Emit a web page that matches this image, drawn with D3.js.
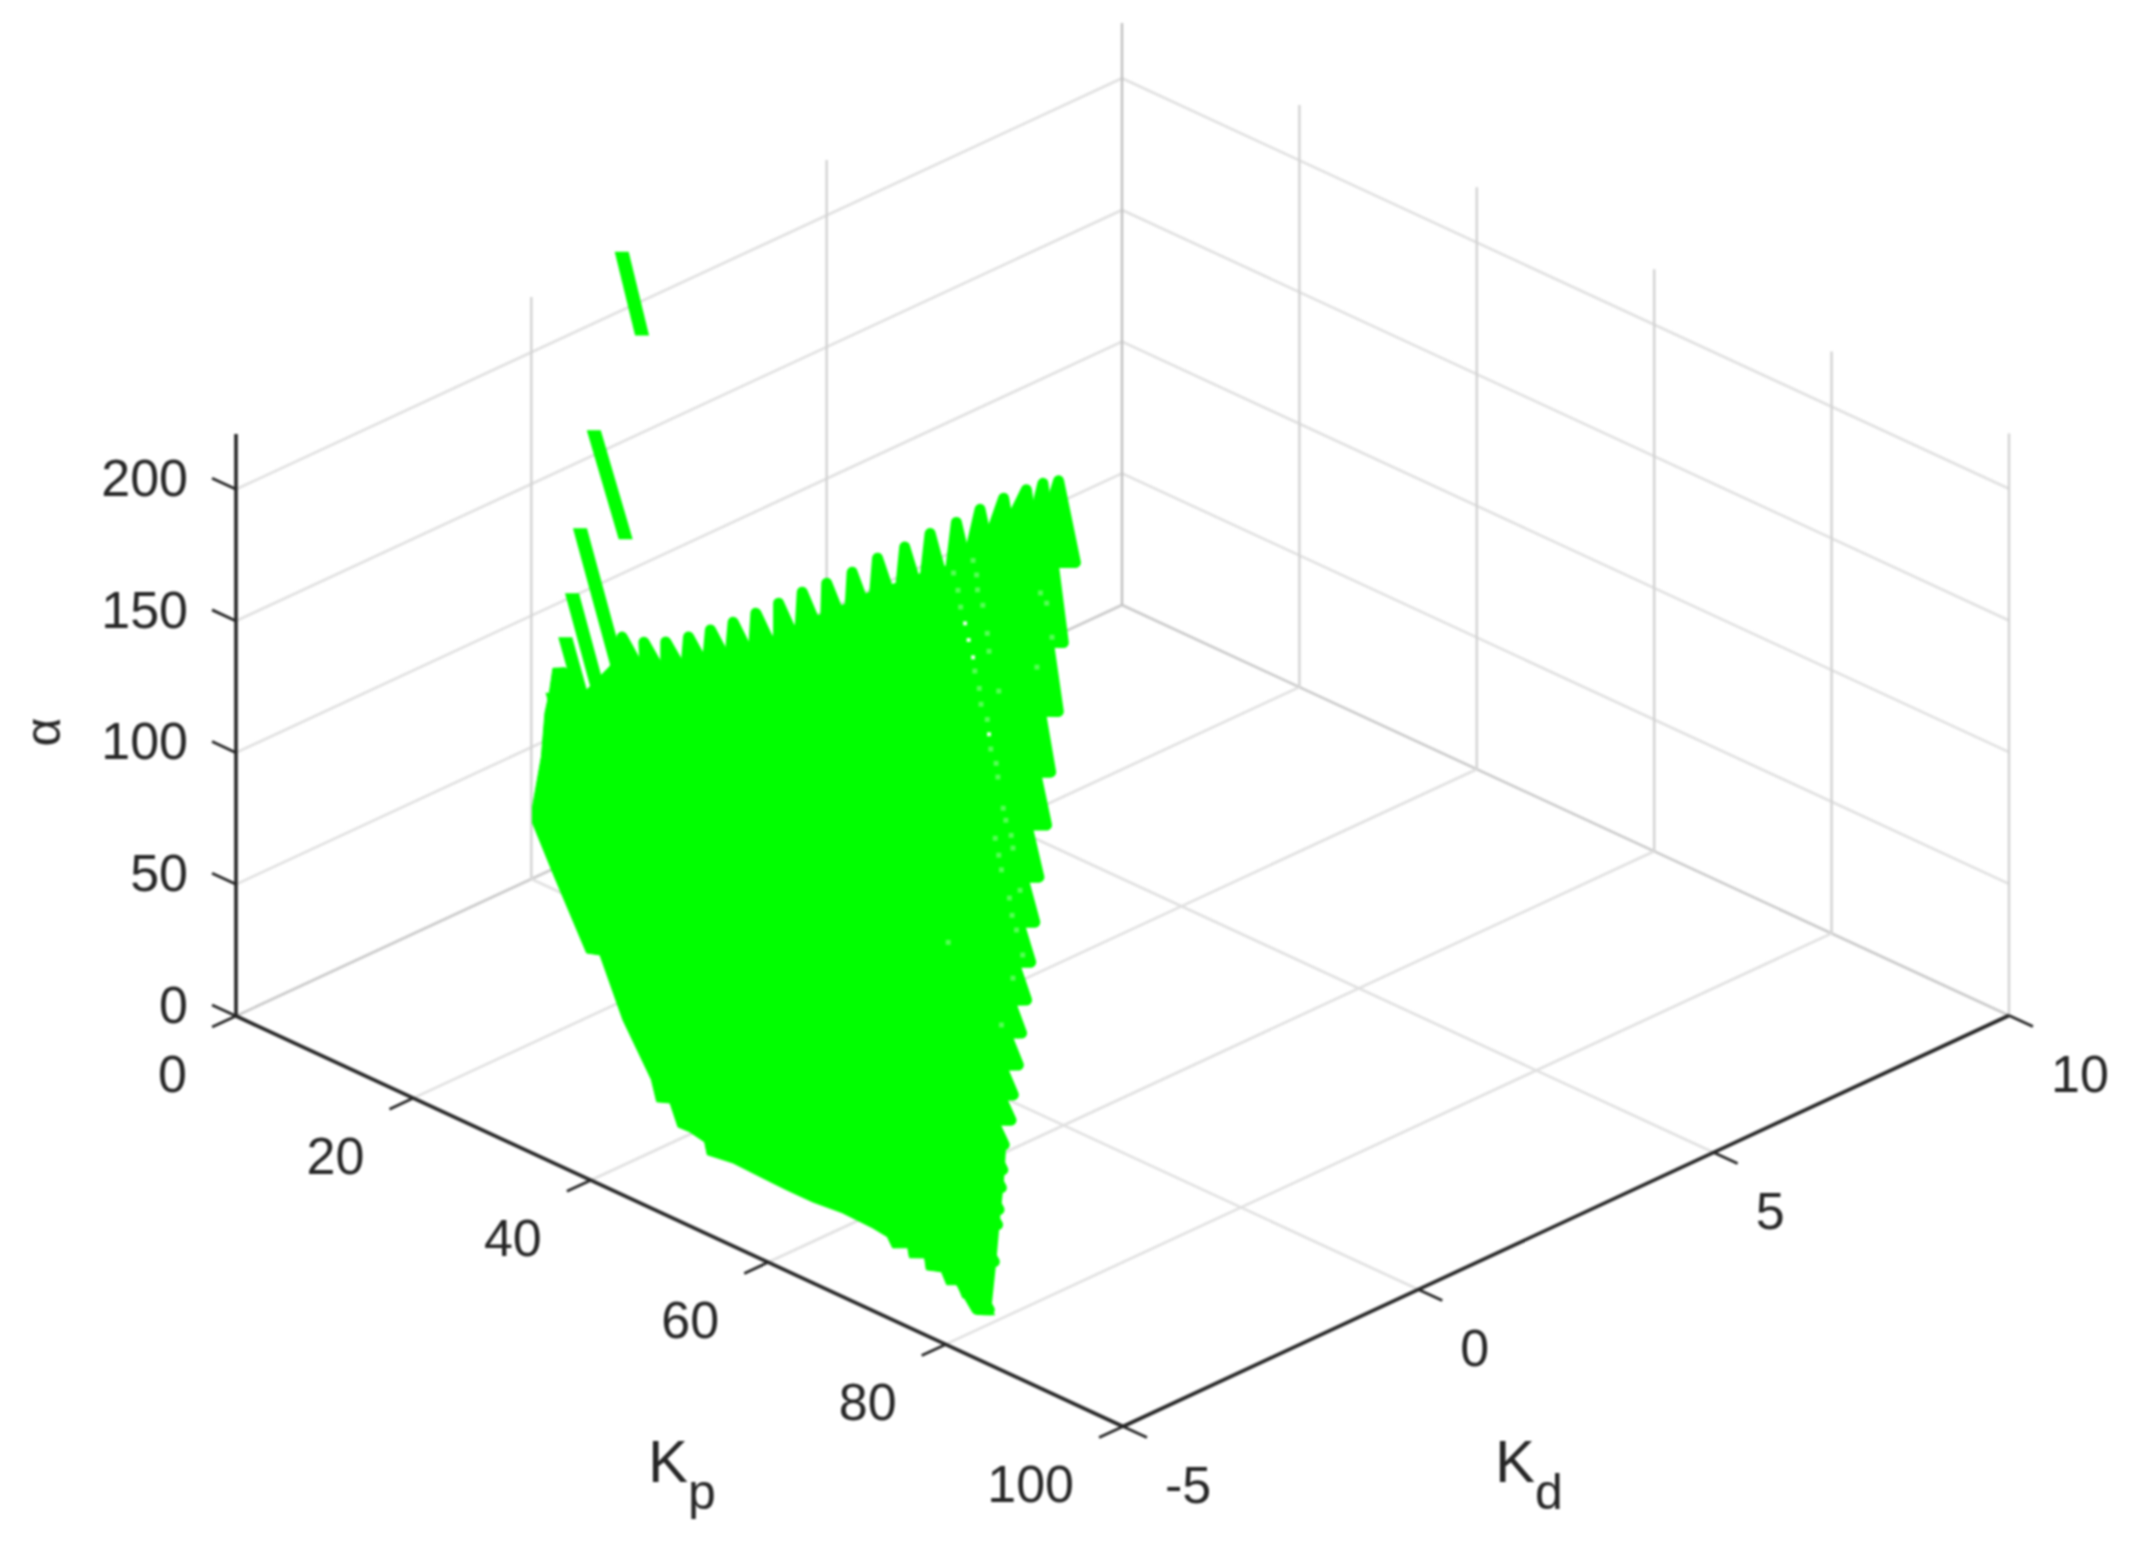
<!DOCTYPE html>
<html><head><meta charset="utf-8">
<script src="https://cdn.jsdelivr.net/npm/d3@7/dist/d3.min.js"></script>
<style>html,body{margin:0;padding:0;background:#fff}svg{display:block;filter:blur(0.8px)}text{font-family:"Liberation Sans",Arial,sans-serif;fill:#262626}</style>
</head><body><svg id="c" width="2136" height="1548"></svg>
<script>
// axis ticks
const kpTicks=[0,20,40,60,80,100];
const kdTicks=[-5,0,5,10];
const alphaTicks=[0,50,100,150,200];
const kpDomain=[0,100], kdDomain=[-5,10], alphaDomain=[0,221];

// Kd slices of the green region: each slice is bounded by tip, end, ledge and notch (Kp, alpha)
const sliceKd   =[3.4,3.0,2.6,2.2,1.8,1.4,1.0,0.6,0.2,-0.2,-0.6,-1.0,-1.4,-1.8,-2.2,-2.6,-3.0,-3.4,-3.8,-4.2];
const tipKp     =[36.8,37.7,38.5,38.6,38.6,38.6,38.3,38.1,37.7,37.5,37.3,37.2,37.2,37.3,37.4,37.5,37.7,37.8,38.0,38.2];
const tipAlpha  =[173.2,177.8,180.8,181.9,181.8,181.0,180.5,179.2,178.5,177.0,176.7,177.3,177.3,177.8,178.7,180.1,181.9,184.3,188.7,195.1];
const endKp     =[38.7,40.0,42.1,43.9,46.1,47.9,50.1,52.3,54.5,56.6,58.9,61.0,63.4,65.3,67.8,70.3,72.7,75.2,77.5,79.6];
const endAlpha  =[145.1,120.9,102.2,86.1,73.6,60.8,51.3,43.7,36.9,31.8,27.4,23.5,21.8,19.6,18.1,19.4,19.0,21.3,15.0,4.2];
const ledgeKp   =[35.7,37.8,39.7,41.8,43.4,45.7,47.9,50.0,52.2,54.4,56.5,59.0,60.9,63.3,66.2,68.3,71.1,72.0,73.6,78.2];
const ledgeAlpha=[140.5,117.6,98.5,82.8,69.4,57.3,47.8,40.1,33.2,28.3,23.6,20.4,18.0,16.4,15.6,16.2,16.4,16.4,8.8,2.1];
const notchKp   =[36.2,37.2,37.3,37.2,37.4,38.0,37.8,37.7,37.4,37.3,37.2,37.0,37.2,37.1,37.1,37.2,37.4,37.8,38.2,37.0];
const notchAlpha=[165.6,170.1,170.7,166.3,162.1,163.4,164.7,164.8,165.5,164.9,164.8,165.0,164.8,165.8,166.6,167.8,169.2,171.4,174.3,175.9];
const smoothEdgeFrom=13; // slices from here on end on the smooth lower right edge

// lower-left outline of the region, on the lowest Kd slice
const baseKd=-4.2;
const baseKp=[80.2,78.8,78.4,77.9,76.6,76.0,74.8,74.2,72.5,72.3,70.6,70.4,68.7,68.1,66.4,63.0,59.7,56.7,53.4,50.7,47.8,47.5,45.8,44.5,43.6,42.1,41.5,38.3,35.7,34.2,30.4,28.1,28.1,29.1,29.5,30.0,30.4,31.8,34.2,37.0];
const baseAlpha=[3.2,1.1,7.2,6.2,4.0,8.1,6.2,10.2,8.3,12.5,9.9,13.4,10.7,14.0,14.8,15.2,14.1,14.1,14.5,14.9,13.5,17.9,19.1,18.9,26.6,24.7,32.2,49.8,70.5,68.9,93.3,108.8,114.9,135.5,152.7,161.2,171.1,173.5,168.8,182.7];

// separate streaks at the upper left
const streakKd    =[1.5,-1.0,-2.0,-2.6,-3.0,-3.4,-3.8];
const streakKpA   =[0.2,13.7,18.8,21.9,23.8,25.9,27.7];
const streakAlphaA=[221,200.3,181.4,167.8,158.2,153.9,151.5];
const streakKpB   =[2.5,17.3,23.0,25.0,26.4,27.9,29.6];
const streakAlphaB=[196.6,168.3,139.7,137.8,134.5,135.4,134.7];

// small holes in the cloud, at Kd = 0
const holeKd=0;
const holeKp=[48.9,49.3,49.8,51.6];
const holeAlpha=[173.3,167.6,161.8,135.4];
const thinKp=[47.6,48.1,48.4,50.0,50.5,50.7,51.4,51.8,52.4,52.6,53.2,53.5,52.3,54.1,52.7,54.3,53.0,50.3,50.2,49.8,50.9,51.4,51.6,52.7,57.4,58.1,58.7,57.0,53.9,55.1,54.2,54.7,55.4,54.3,47.0,53.0];
const thinAlpha=[190.4,184.6,178.7,156.9,151.1,145.4,140.7,130.1,125.6,120.7,109.8,105.7,97.0,100.9,91.2,96.4,86.1,188.2,193.7,198.6,183.3,173.4,166.9,153.5,198.1,195.3,183.3,169.3,76.8,81.6,70.7,65.9,57.5,47.0,49.2,27.2];

const svg=d3.select("#c");
const ox=236, oy=1016;
const kpX=d3.scaleLinear().domain(kpDomain).range([0,887]);
const kpY=d3.scaleLinear().domain(kpDomain).range([0,410.5]);
const kdX=d3.scaleLinear().domain(kdDomain).range([0,886]);
const kdY=d3.scaleLinear().domain(kdDomain).range([0,-411]);
const aY=d3.scaleLinear().domain(alphaDomain).range([0,582]);
const P=(kp,kd,a)=>[ox+kpX(kp)+kdX(kd), oy+kpY(kp)+kdY(kd)-aY(a)];
const line=d3.line();
const seg=(g,a,b,col,w)=>g.append("path").attr("d",line([a,b])).attr("fill","none").attr("stroke",col).attr("stroke-width",w);

const kpMax=kpDomain[1],kpMin=kpDomain[0],kdMin=kdDomain[0],kdMax=kdDomain[1],aMax=alphaDomain[1];
const GH="#e0e0e0",GV="#d2d2d2";
const grid=svg.append("g");
// wall horizontals
alphaTicks.forEach(a=>{
  const c=a===0?"#cacaca":GH;
  seg(grid,P(kpMin,kdMin,a),P(kpMin,kdMax,a),c,2.6);
  seg(grid,P(kpMin,kdMax,a),P(kpMax,kdMax,a),c,2.6);
});
// wall verticals
kdTicks.filter(k=>k>kdMin).forEach(k=>seg(grid,P(kpMin,k,0),P(kpMin,k,aMax),k===kdMax?"#c0c0c0":GV,2.4));
kpTicks.filter(k=>k>kpMin).forEach(k=>seg(grid,P(k,kdMax,0),P(k,kdMax,aMax),GV,2.4));
// floor
kpTicks.filter(k=>k>kpMin&&k<kpMax).forEach(k=>seg(grid,P(k,kdMin,0),P(k,kdMax,0),GH,2.6));
kdTicks.filter(k=>k>kdMin&&k<kdMax).forEach(k=>seg(grid,P(kpMin,k,0),P(kpMax,k,0),GH,2.6));

// green region
const GREEN="#00ff00";
const cloud=svg.append("g");
cloud.append("path").attr("d",line(baseKp.map((k,i)=>P(k,baseKd,baseAlpha[i])))+"Z")
  .attr("fill",GREEN).attr("stroke",GREEN).attr("stroke-width",1);
// body joining the notches along the top to the slice ends on the right
const notchChain=sliceKd.map((kd,i)=>P(notchKp[i],kd,notchAlpha[i]));
const rightChain=sliceKd.map((kd,i)=>i<smoothEdgeFrom?P(ledgeKp[i],kd,ledgeAlpha[i]):P(endKp[i],kd,endAlpha[i]));
cloud.append("path").attr("d",line(notchChain.concat(rightChain.reverse()))+"Z")
  .attr("fill",GREEN).attr("stroke",GREEN).attr("stroke-width",4);
cloud.selectAll("path.slice").data(sliceKd).join("path").attr("class","slice")
  .attr("d",(kd,i)=>line([
    P(tipKp[i],kd,tipAlpha[i]),P(endKp[i],kd,endAlpha[i]),
    P(ledgeKp[i],kd,ledgeAlpha[i]),P(notchKp[i],kd,notchAlpha[i])])+"Z")
  .attr("fill",GREEN).attr("stroke",GREEN).attr("stroke-width",11).attr("stroke-linejoin","round");
// streaks have flat, horizontal ends like stacked square markers
const halfW=7, capH=5;
cloud.selectAll("path.streak").data(streakKd).join("path").attr("class","streak")
  .attr("d",(kd,i)=>{
    const a=P(streakKpA[i],kd,streakAlphaA[i]), b=P(streakKpB[i],kd,streakAlphaB[i]);
    return line([[a[0]-halfW,a[1]-capH],[a[0]+halfW,a[1]-capH],[b[0]+halfW,b[1]+capH],[b[0]-halfW,b[1]+capH]])+"Z";
  }).attr("fill",GREEN);
thinKp.forEach((k,i)=>{const p=P(k,holeKd,thinAlpha[i]);
  cloud.append("rect").attr("x",p[0]-2.5).attr("y",p[1]-2.5).attr("width",5).attr("height",5).attr("fill","#55ff55");});
holeKp.forEach((k,i)=>{const p=P(k,holeKd,holeAlpha[i]);
  cloud.append("rect").attr("x",p[0]-2).attr("y",p[1]-2).attr("width",4).attr("height",4).attr("fill","#e8ffe8");});

// axes
const AX="#262626";
const axes=svg.append("g");
seg(axes,P(kpMin,kdMin,0),P(kpMin,kdMin,aMax),AX,3.6);
seg(axes,P(kpMin,kdMin,0),P(kpMax,kdMin,0),AX,3.6);
seg(axes,P(kpMax,kdMin,0),P(kpMax,kdMax,0),AX,3.6);
const tickKp=2.7, tickKd=0.405;
const FS=52, mid=FS*0.36;
const label=(t,x,y,anchor)=>svg.append("text").attr("x",x).attr("y",y+mid).attr("text-anchor",anchor).attr("font-size",FS).text(t);
alphaTicks.forEach(a=>{
  const p=P(kpMin,kdMin,a);
  seg(axes,p,P(kpMin-tickKp,kdMin,a),AX,2.8);
  label(String(a),188,p[1]-12,"end");
});
kpTicks.forEach(k=>{
  const p=P(k,kdMin,0);
  seg(axes,p,P(k,kdMin-tickKd,0),AX,2.8);
  label(String(k),p[0]-49,p[1]+57,"end");
});
kdTicks.forEach(k=>{
  const p=P(kpMax,k,0);
  seg(axes,p,P(kpMax+tickKp,k,0),AX,2.8);
  label(String(k),p[0]+42,p[1]+58,"start");
});

// axis titles
const title=(base,sub,x,y)=>{
  const t=svg.append("text").attr("x",x).attr("y",y).attr("font-size",60);
  t.append("tspan").text(base);
  t.append("tspan").attr("font-size",50).attr("dy",27).text(sub);
};
title("K","p",648,1482);
title("K","d",1495,1482);
svg.append("text").attr("transform","translate(60,732) rotate(-90)").attr("text-anchor","middle")
  .attr("font-size",50).text("α");
</script></body></html>
